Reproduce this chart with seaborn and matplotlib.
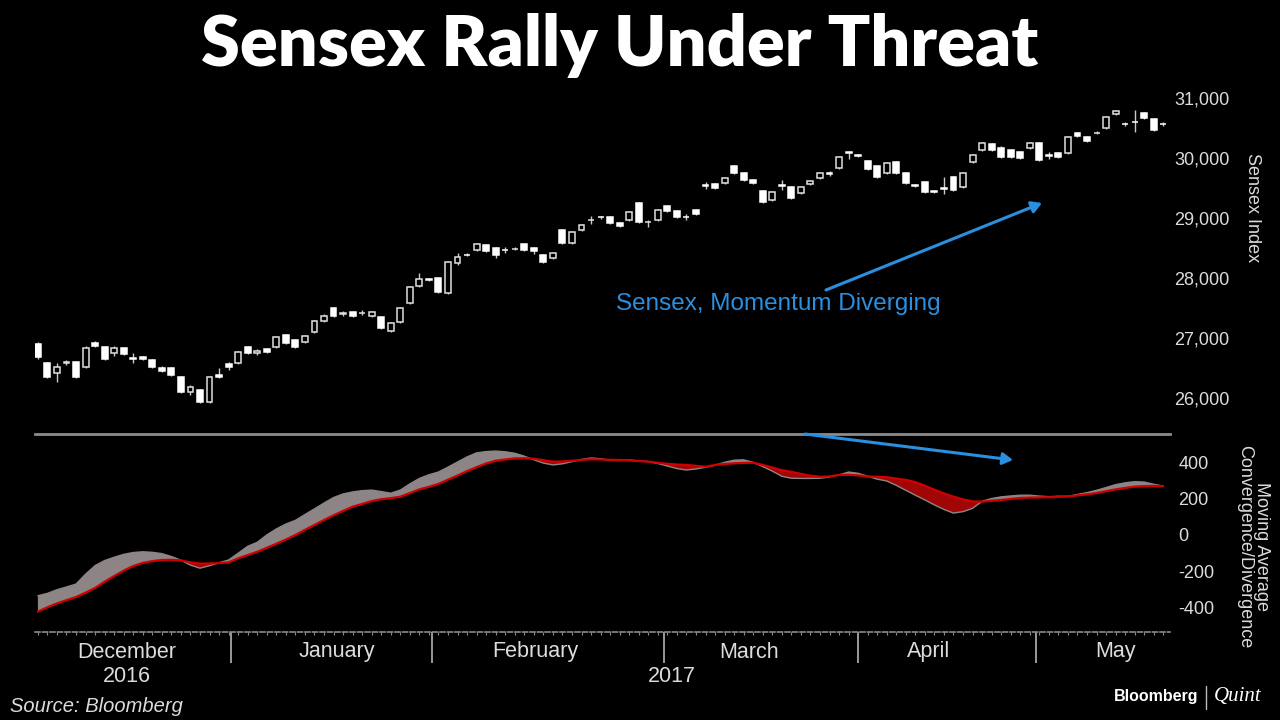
import numpy as np
import pandas as pd
import matplotlib
matplotlib.use("Agg")
import matplotlib.pyplot as plt
import matplotlib.transforms as mtransforms
from matplotlib.lines import Line2D
from matplotlib.patches import FancyArrowPatch
import seaborn as sns

# ---------------- data ----------------
opens = [26900, 26590, 26420, 26580, 26600, 26520, 26920, 26850, 26750, 26830,
         26670, 26690, 26640, 26500, 26500, 26350, 26100, 26140, 25940, 26390,
         26570, 26590, 26850, 26760, 26820, 26850, 27050, 26970, 26930, 27100,
         27280, 27500, 27400, 27430, 27410, 27370, 27350, 27120, 27270, 27580,
         27870, 27980, 28000, 27750, 28250, 28390, 28470, 28550, 28500, 28470,
         28480, 28570, 28500, 28380, 28330, 28800, 28580, 28800, 28960, 29020,
         29020, 28920, 28970, 29250, 28930, 28970, 29200, 29120, 29020, 29130,
         29550, 29570, 29580, 29870, 29750, 29630, 29450, 29300, 29550, 29520,
         29420, 29570, 29670, 29750, 29830, 30100, 30050, 29950, 29870, 29750,
         29930, 29750, 29550, 29600, 29450, 29500, 29680, 29520, 29930, 30130,
         30230, 30170, 30130, 30100, 30170, 30250, 30050, 30080, 30080, 30410,
         30350, 30410, 30500, 30730, 30570, 30600, 30750, 30650, 30570]
closes = [26690, 26350, 26520, 26600, 26350, 26840, 26870, 26650, 26830, 26740,
          26660, 26650, 26520, 26450, 26390, 26100, 26190, 25940, 26350, 26350,
          26520, 26770, 26750, 26780, 26770, 27020, 26920, 26850, 27030, 27280,
          27370, 27370, 27410, 27370, 27420, 27430, 27170, 27250, 27500, 27850,
          27980, 27970, 27770, 28270, 28350, 28380, 28570, 28450, 28380, 28460,
          28490, 28470, 28450, 28270, 28420, 28580, 28770, 28880, 28970, 29010,
          28920, 28870, 29100, 28930, 28940, 29130, 29120, 29020, 29010, 29070,
          29540, 29500, 29670, 29750, 29630, 29580, 29270, 29430, 29540, 29330,
          29520, 29620, 29750, 29740, 30020, 30080, 30040, 29820, 29680, 29920,
          29750, 29580, 29540, 29430, 29440, 29490, 29470, 29750, 30050, 30250,
          30130, 30020, 30020, 30000, 30250, 29970, 30040, 30020, 30350, 30360,
          30280, 30420, 30680, 30780, 30560, 30590, 30660, 30460, 30560]
highs = [26930, 26610, 26590, 26640, 26620, 26860, 26950, 26870, 26860, 26850,
         26750, 26710, 26660, 26530, 26520, 26370, 26220, 26160, 26370, 26500,
         26600, 26790, 26870, 26820, 26840, 27040, 27070, 26990, 27050, 27300,
         27400, 27520, 27450, 27450, 27460, 27450, 27370, 27270, 27520, 27870,
         28080, 28000, 28020, 28290, 28420, 28410, 28590, 28570, 28520, 28510,
         28510, 28590, 28520, 28400, 28440, 28820, 28790, 28900, 29040, 29040,
         29040, 28940, 29120, 29270, 28960, 29150, 29220, 29140, 29070, 29150,
         29600, 29590, 29690, 29890, 29770, 29650, 29470, 29450, 29640, 29540,
         29540, 29640, 29770, 29790, 30040, 30120, 30070, 29970, 29890, 29940,
         29950, 29770, 29570, 29620, 29470, 29680, 29700, 29770, 30070, 30270,
         30250, 30190, 30150, 30120, 30270, 30270, 30100, 30100, 30370, 30430,
         30370, 30440, 30700, 30800, 30600, 30800, 30770, 30670, 30600]
lows = [26660, 26330, 26270, 26550, 26330, 26500, 26850, 26630, 26700, 26720,
        26590, 26630, 26500, 26430, 26370, 26080, 26050, 25920, 25920, 26340,
        26470, 26570, 26730, 26720, 26750, 26830, 26900, 26830, 26910, 27080,
        27260, 27350, 27360, 27350, 27380, 27350, 27150, 27100, 27250, 27560,
        27850, 27950, 27750, 27730, 28220, 28360, 28450, 28430, 28330, 28420,
        28460, 28450, 28400, 28250, 28310, 28560, 28560, 28780, 28900, 28990,
        28900, 28850, 28950, 28910, 28850, 28950, 29100, 29000, 28960, 29050,
        29490, 29480, 29560, 29730, 29610, 29560, 29250, 29280, 29460, 29310,
        29400, 29550, 29650, 29700, 29810, 29990, 30020, 29800, 29660, 29730,
        29730, 29560, 29520, 29410, 29420, 29400, 29450, 29500, 29910, 30110,
        30110, 30000, 30000, 29980, 30150, 29950, 29990, 30000, 30060, 30340,
        30260, 30390, 30480, 30710, 30530, 30430, 30640, 30440, 30530]

macd = [-333, -320, -300, -285, -269, -215, -168, -140, -122, -106,
        -96, -92, -95, -102, -118, -138, -165, -182, -168, -152,
        -137, -100, -62, -40, 0, 33, 60, 80, 112, 143,
        175, 205, 225, 236, 243, 246, 238, 229, 246, 280,
        310, 330, 345, 372, 400, 428, 450, 457, 460, 456,
        448, 432, 412, 394, 384, 390, 402, 414, 422, 418,
        409, 408, 411, 406, 402, 392, 378, 364, 356, 362,
        371, 382, 398, 410, 412, 398, 375, 350, 322, 311,
        310, 310, 311, 318, 329, 345, 338, 322, 306, 296,
        272, 245, 218, 192, 165, 140, 120, 128, 146, 185,
        200, 209, 214, 218, 218, 213, 210, 212, 212, 222,
        232, 245, 260, 276, 286, 292, 290, 278, 268]
signal = [-420, -396, -375, -357, -340, -316, -290, -256, -225, -195,
          -170, -153, -143, -137, -136, -139, -150, -157, -156, -154,
          -150, -128, -110, -92, -70, -48, -25, 0, 28, 55,
          82, 108, 132, 155, 170, 186, 196, 202, 210, 230,
          250, 264, 280, 303, 326, 350, 372, 392, 407, 414,
          420, 421, 418, 410, 402, 403, 407, 412, 415, 414,
          412, 411, 409, 405, 402, 396, 390, 386, 384, 379,
          374, 384, 389, 393, 395, 396, 384, 370, 355, 346,
          335, 325, 319, 321, 329, 330, 327, 320, 319, 317,
          309, 302, 290, 270, 248, 228, 210, 195, 184, 183,
          188, 192, 198, 203, 205, 206, 207, 209, 211, 217,
          223, 230, 240, 250, 258, 265, 268, 269, 268]

month_labels = ["December", "January", "February", "March", "April", "May"]
year_labels = ["2016", "2017"]
sensex_ticks = [26000, 27000, 28000, 29000, 30000, 31000]
macd_ticks = [-400, -200, 0, 200, 400]

# axis layout (trading-day index positions of month separators / labels)
month_bounds = [20.2, 41.3, 65.7, 86.0, 104.7]
month_label_pos = [9.3, 31.3, 52.2, 74.6, 93.4, 113.0]
year_label_pos = [9.3, 66.5]

# ---------------- style ----------------
sns.set_theme(style="dark", rc={
    "axes.facecolor": "black", "figure.facecolor": "black",
    "savefig.facecolor": "black", "text.color": "#dcdcdc",
    "xtick.color": "#dcdcdc", "ytick.color": "#dcdcdc",
    "axes.edgecolor": "#8a8a8a", "axes.grid": False,
    "xtick.bottom": True,
})
plt.rcParams["font.family"] = ["Liberation Sans", "DejaVu Sans"]

W, H = 1280, 720
fig = plt.figure(figsize=(12.8, 7.2), dpi=100, facecolor="black")
ax1 = fig.add_axes([35 / W, 1 - 434 / H, (1170 - 35) / W, (434 - 85) / H])
ax2 = fig.add_axes([35 / W, 1 - 632 / H, (1170 - 35) / W, (632 - 436) / H])

df = pd.DataFrame({"day": np.arange(len(opens)), "open": opens, "close": closes,
                   "high": highs, "low": lows})
up = df["close"] >= df["open"]

# ---------------- candlesticks ----------------
ax1.vlines(df["day"], df["low"], df["high"], color="#c8c8c8", lw=1.0, zorder=1)
ax1.bar(df["day"][up], (df["close"] - df["open"])[up], bottom=df["open"][up],
        width=0.62, facecolor="black", edgecolor="#e0e0e0", linewidth=1.1, zorder=2)
ax1.bar(df["day"][~up], (df["open"] - df["close"])[~up], bottom=df["close"][~up],
        width=0.62, facecolor="white", edgecolor="white", linewidth=1.1, zorder=2)

ax1.set_xlim(-0.3, 118.7)
ax1.set_ylim(25403, 31214)
for sp in ["top", "left", "right"]:
    ax1.spines[sp].set_visible(False)
ax1.spines["bottom"].set_color("#8c8c8c")
ax1.spines["bottom"].set_linewidth(2.0)
ax1.set_xticks([])
ax1.yaxis.tick_right()
ax1.set_yticks(sensex_ticks)
ax1.set_yticklabels([f"{t:,}" for t in sensex_ticks])
ax1.tick_params(axis="y", length=0, pad=3, labelsize=13, colors="#dcdcdc")

# ---------------- MACD panel ----------------
days = df["day"].to_numpy()
m = np.array(macd, dtype=float)
s = np.array(signal, dtype=float)
ax2.fill_between(days, m, s, where=m >= s, interpolate=True, color="#8d8585", lw=0, zorder=1)
ax2.fill_between(days, m, s, where=m < s, interpolate=True, color="#a00606", lw=0, zorder=1)
sns.lineplot(x=days, y=m, ax=ax2, color="#8d8585", lw=1.0, zorder=2)
sns.lineplot(x=days, y=s, ax=ax2, color="#d00000", lw=1.6, zorder=3)

ax2.set_xlim(-0.3, 118.7)
ax2.set_ylim(-531.6, 542.5)
for sp in ["top", "left", "right"]:
    ax2.spines[sp].set_visible(False)
ax2.spines["bottom"].set_color("#8a8a8a")
ax2.spines["bottom"].set_linewidth(1.2)
ax2.spines["bottom"].set_linestyle((0, (3, 1.5)))
ax2.yaxis.tick_right()
ax2.set_yticks(macd_ticks)
ax2.set_yticklabels([str(t) for t in macd_ticks])
ax2.tick_params(axis="y", length=0, pad=6, labelsize=13, colors="#dcdcdc")
ax2.set_xticks(month_bounds)
ax2.set_xticklabels([""] * len(month_bounds))
ax2.set_xticks(np.arange(len(opens)), minor=True)
ax2.tick_params(axis="x", which="major", bottom=True, length=22, width=1.4,
                color="#9a9a9a", direction="out")
ax2.tick_params(axis="x", which="minor", bottom=True, length=2, width=0.8,
                color="#8a8a8a", direction="out")
ax2.set_xlabel("")
ax2.set_ylabel("")

trans = mtransforms.blended_transform_factory(ax2.transData, fig.transFigure)
for lab, pos in zip(month_labels, month_label_pos):
    ax2.text(pos, 1 - 652 / H, lab, transform=trans, ha="center", va="center",
             fontsize=15.5, color="#dcdcdc", clip_on=False)
for lab, pos in zip(year_labels, year_label_pos):
    ax2.text(pos, 1 - 677 / H, lab, transform=trans, ha="center", va="center",
             fontsize=15.5, color="#dcdcdc", clip_on=False)

# ---------------- texts ----------------
fig.text(620 / W, 1 - 45 / H, "Sensex Rally Under Threat", ha="center", va="center",
         fontsize=50.5, fontweight="heavy", color="white", family=["Lato", "DejaVu Sans"])
fig.text(1253 / W, 1 - 208 / H, "Sensex Index", rotation=270, ha="center", va="center",
         fontsize=13, color="#dcdcdc")
fig.text(1253 / W, 1 - 547 / H, "Moving Average\nConvergence/Divergence", rotation=270,
         ha="center", va="center", multialignment="center", fontsize=13,
         linespacing=1.0, color="#dcdcdc")
blue = "#2b8fe0"
fig.text(778 / W, 1 - 304 / H, "Sensex, Momentum Diverging", ha="center", va="center",
         fontsize=17.5, color=blue)
for (x0, y0), (x1, y1) in [((826, 290), (1042, 203)), ((805, 434), (1013, 460))]:
    arr = FancyArrowPatch((x0 / W, 1 - y0 / H), (x1 / W, 1 - y1 / H),
                          transform=fig.transFigure,
                          arrowstyle="-|>,head_length=6,head_width=3.5",
                          color=blue, lw=2.2, shrinkA=0, shrinkB=0, zorder=5)
    fig.add_artist(arr)

fig.text(10 / W, 1 - 706 / H, "Source: Bloomberg", ha="left", va="center",
         fontsize=14.5, style="italic", color="#dcdcdc")
fig.text(1198 / W, 1 - 697 / H, "Bloomberg", ha="right", va="center",
         fontsize=11.5, fontweight="bold", color="white")
fig.add_artist(Line2D([1206 / W, 1206 / W], [1 - 686 / H, 1 - 709 / H],
                      transform=fig.transFigure, color="#bbbbbb", lw=1))
fig.text(1214 / W, 1 - 697 / H, "Quint", ha="left", va="center", fontsize=15,
         style="italic", color="white", family=["Liberation Serif", "DejaVu Serif"])

fig.savefig("out.png", dpi=100, facecolor="black")
